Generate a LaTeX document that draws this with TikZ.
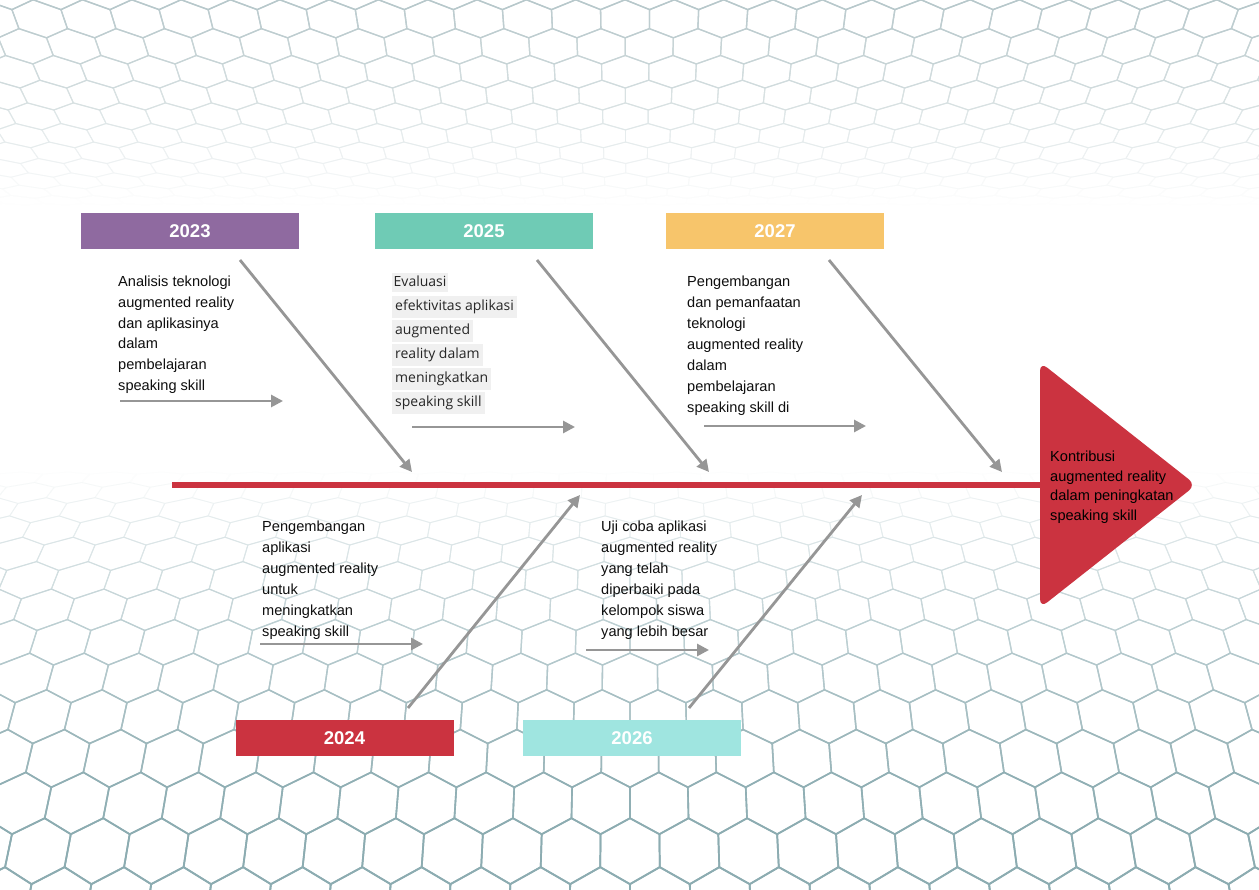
\documentclass[tikz,border=0pt]{standalone}
\usepackage{fontspec}
\setmainfont{Liberation Sans}
\newfontfamily\evalfont{Open Sans}
\usetikzlibrary{arrows.meta}

\definecolor{cPurple}{RGB}{143,106,160}
\definecolor{cTeal}{RGB}{111,203,181}
\definecolor{cOrange}{RGB}{247,197,107}
\definecolor{cRed}{RGB}{203,51,64}
\definecolor{cCyan}{RGB}{159,229,224}
\definecolor{boneGray}{RGB}{150,150,150}
\definecolor{hexLow}{RGB}{140,172,177}
\definecolor{hexTop}{RGB}{165,186,190}
\definecolor{hlGray}{RGB}{240,240,240}
\definecolor{txt}{RGB}{15,15,15}

\newcommand\hlline[1]{\colorbox{hlGray}{\rule[-4pt]{0pt}{16pt}#1}}

\tikzset{
  yearbox/.style={minimum width=218pt, minimum height=36pt, inner sep=0pt,
    text=white, font=\bfseries\fontsize{18.5}{20}\selectfont},
  bone/.style={draw=boneGray, line width=2.8pt,
    -{Triangle[length=12pt,width=12pt]}},
  note/.style={anchor=north west, inner sep=0pt, align=left, text=txt,
    font=\fontsize{14.6}{20.9}\selectfont},
  declare function={
    tb(\v)=max(\v,0)/693;
    bx(\u,\v)=629.5+(\u-629.5)*(0.78+0.22*tb(\v));
    by(\v)=472+420*(0.35*tb(\v)+0.65*tb(\v)^2);
    tt(\v)=max(\v,0)/520;
    tx(\u,\v)=629.5+(\u-629.5)*(0.8+0.2*tt(\v));
    ty(\v)=205-230*(0.35*tt(\v)+0.65*tt(\v)^2);
  }
}

\begin{document}
\begin{tikzpicture}[x=1pt,y=-1pt]
\useasboundingbox (0,0) rectangle (1259,890);
\fill[white] (0,0) rectangle (1259,890);

% floor of hexagons, flattening towards the horizon
\begin{scope}
\clip (0,470) rectangle (1259,890);
\foreach \j in {0,...,15}{
  \foreach \i in {-4,...,25}{
    \pgfmathsetmacro\uc{\i*60+mod(\j,2)*30}
    \pgfmathsetmacro\vc{\j*51.96-25}
    \pgfmathsetmacro\tv{min(1,max(0.001,\vc/693))}
    \pgfmathsetmacro\pc{min(100,115*\tv^1.2)}
    \pgfmathsetmacro\lw{0.5+1.3*\tv}
    \draw[hexLow!\pc!white, line width=\lw pt, line join=round]
      ({bx(\uc,\vc-34.64)},{by(\vc-34.64)})
      -- ({bx(\uc+30,\vc-17.32)},{by(\vc-17.32)})
      -- ({bx(\uc+30,\vc+17.32)},{by(\vc+17.32)})
      -- ({bx(\uc,\vc+34.64)},{by(\vc+34.64)})
      -- ({bx(\uc-30,\vc+17.32)},{by(\vc+17.32)})
      -- ({bx(\uc-30,\vc-17.32)},{by(\vc-17.32)})
      -- cycle;
  }
}
\end{scope}

% ceiling of hexagons
\begin{scope}
\clip (0,0) rectangle (1259,210);
\foreach \j in {0,...,13}{
  \foreach \i in {-5,...,31}{
    \pgfmathsetmacro\uc{\i*50+mod(\j,2)*25}
    \pgfmathsetmacro\vc{\j*43.3-20}
    \pgfmathsetmacro\tv{min(1,max(0.001,\vc/520))}
    \pgfmathsetmacro\pc{min(80,88*\tv^1.5)}
    \pgfmathsetmacro\lw{0.5+0.9*\tv}
    \draw[hexTop!\pc!white, line width=\lw pt, line join=round]
      ({tx(\uc,\vc-28.87)},{ty(\vc-28.87)})
      -- ({tx(\uc+25,\vc-14.43)},{ty(\vc-14.43)})
      -- ({tx(\uc+25,\vc+14.43)},{ty(\vc+14.43)})
      -- ({tx(\uc,\vc+28.87)},{ty(\vc+28.87)})
      -- ({tx(\uc-25,\vc+14.43)},{ty(\vc+14.43)})
      -- ({tx(\uc-25,\vc-14.43)},{ty(\vc-14.43)})
      -- cycle;
  }
}
\end{scope}

% head of the fishbone
\fill[cRed, rounded corners=9pt] (1040,362) -- (1196,485) -- (1040,608) -- cycle;
\node[note, font=\fontsize{14.6}{19.5}\selectfont, text=black] (goal) at (1050,451)
  {Kontribusi\\augmented reality\\dalam peningkatan\\speaking skill};

% spine
\coordinate (spineL) at (172,485);
\coordinate (spineR) at (1041,485);
\draw[cRed, line width=6pt] (spineL) -- (spineR);

% year labels
\node[yearbox, fill=cPurple] (y2023) at (190,231) {2023};
\node[yearbox, fill=cTeal]   (y2025) at (484,231) {2025};
\node[yearbox, fill=cOrange] (y2027) at (775,231) {2027};
\node[yearbox, fill=cRed]    (y2024) at (344.5,738) {2024};
\node[yearbox, fill=cCyan]   (y2026) at (632,738) {2026};

% descriptions
\node[note] (t2023) at (118,275.5)
  {Analisis teknologi\\augmented reality\\dan aplikasinya\\dalam\\pembelajaran\\speaking skill};
\node[note, font=\evalfont\fontsize{14}{24}\selectfont, text=black!85] (t2025) at (392,273)
  {\setlength\fboxsep{1.5pt}\hlline{Evaluasi}\\\hlline{efektivitas aplikasi}\\\hlline{augmented}\\\hlline{reality dalam}\\\hlline{meningkatkan}\\\hlline{speaking skill}};
\node[note, font=\fontsize{14.6}{20.9}\selectfont] (t2027) at (687,276)
  {Pengembangan\\dan pemanfaatan\\teknologi\\augmented reality\\dalam\\pembelajaran\\speaking skill di};
\node[note] (t2024) at (262,521)
  {Pengembangan\\aplikasi\\augmented reality\\untuk\\meningkatkan\\speaking skill};
\node[note] (t2026) at (601,521)
  {Uji coba aplikasi\\augmented reality\\yang telah\\diperbaiki pada\\kelompok siswa\\yang lebih besar};

% ends of the bones
\coordinate (d23a) at (240,260);  \coordinate (d23b) at (412,472);
\coordinate (d25a) at (537,260);  \coordinate (d25b) at (709,472);
\coordinate (d27a) at (829,260);  \coordinate (d27b) at (1002,472);
\coordinate (u24a) at (408,708);  \coordinate (u24b) at (580,495);
\coordinate (u26a) at (689,708);  \coordinate (u26b) at (862,495);
\coordinate (h23a) at (120,401);  \coordinate (h23b) at (283,401);
\coordinate (h25a) at (412,427);  \coordinate (h25b) at (575,427);
\coordinate (h27a) at (704,426);  \coordinate (h27b) at (866,426);
\coordinate (h24a) at (260,644);  \coordinate (h24b) at (423,644);
\coordinate (h26a) at (586,650);  \coordinate (h26b) at (709,650);

\draw[bone] (d23a) -- (d23b);
\draw[bone] (d25a) -- (d25b);
\draw[bone] (d27a) -- (d27b);
\draw[bone] (u24a) -- (u24b);
\draw[bone] (u26a) -- (u26b);
\draw[bone] (h23a) -- (h23b);
\draw[bone] (h25a) -- (h25b);
\draw[bone] (h27a) -- (h27b);
\draw[bone] (h24a) -- (h24b);
\draw[bone] (h26a) -- (h26b);
\end{tikzpicture}
\end{document}
